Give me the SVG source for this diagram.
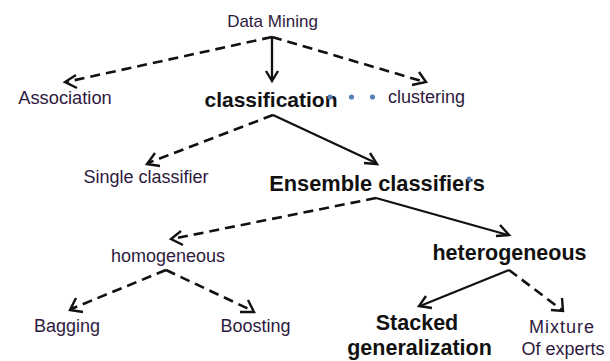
<svg xmlns="http://www.w3.org/2000/svg" width="610" height="361" viewBox="0 0 610 361">
  <style>
    .lbl { font-family: "Liberation Sans", Arial, sans-serif; font-size: 18px; fill: #2e1a40; text-anchor: middle; }
    .bold { font-family: "Liberation Sans", Arial, sans-serif; font-size: 21.5px; font-weight: bold; fill: #111; text-anchor: middle; }
    .dash { fill: none; stroke: #111; stroke-width: 2.6; stroke-dasharray: 10 6; }
    .solid { fill: none; stroke: #111; stroke-width: 2.3; }
    .head { fill: none; stroke: #111; stroke-width: 2.4; stroke-linejoin: miter; }
    .dot { fill: #5a7fb5; }
  </style>

  <rect width="610" height="361" fill="#fff"/>

  <!-- connectors -->
  <g id="connectors">
    <!-- Data Mining -->
    <line class="dash" x1="272" y1="37" x2="66" y2="82"/>
    <polyline class="head" points="76,75 65,82 77,88"/>
    <line class="solid" x1="272" y1="37" x2="272" y2="80"/>
    <polyline class="head" points="266,71 272,81 278,71"/>
    <line class="dash" x1="272" y1="37" x2="425" y2="82"/>
    <polyline class="head" points="412,85 426,82 419,72"/>

    <!-- classification -->
    <line class="dash" x1="273" y1="115" x2="148" y2="163"/>
    <polyline class="head" points="155,153 147,164 160,166"/>
    <line class="solid" x1="273" y1="115" x2="376" y2="163"/>
    <polyline class="head" points="364,163 377,164 370,153"/>

    <!-- Ensemble classifiers -->
    <line class="dash" x1="376" y1="198" x2="172" y2="239"/>
    <polyline class="head" points="181,231 171,239 183,245"/>
    <line class="solid" x1="376" y1="198" x2="508" y2="235"/>
    <polyline class="head" points="496,236 509,235 500,225"/>

    <!-- homogeneous -->
    <line class="dash" x1="166" y1="270" x2="71" y2="309"/>
    <polyline class="head" points="76,298 70,310 83,312"/>
    <line class="dash" x1="166" y1="270" x2="253" y2="311"/>
    <polyline class="head" points="240,312 254,312 248,300"/>

    <!-- heterogeneous -->
    <line class="solid" x1="509" y1="270" x2="420" y2="306"/>
    <polyline class="head" points="426,296 419,306 432,308"/>
    <line class="dash" x1="509" y1="270" x2="562" y2="310"/>
    <polyline class="head" points="551,310 563,311 562,298"/>
  </g>

  <!-- nodes -->
  <g id="data-mining"><text class="lbl" x="272.5" y="27" style="font-size:17px">Data Mining</text></g>
  <g id="association"><text class="lbl" x="65" y="103.5" style="font-size:18.3px">Association</text></g>
  <g id="classification"><text class="bold" x="271" y="107" style="font-size:21px">classification</text></g>
  <g id="dots">
    <circle class="dot" cx="330" cy="97" r="2.6"/>
    <circle class="dot" cx="351.5" cy="97" r="2.6"/>
    <circle class="dot" cx="372.5" cy="97" r="2.6"/>
  </g>
  <g id="clustering"><text class="lbl" x="426.5" y="103">clustering</text></g>
  <g id="single-classifier"><text class="lbl" x="146" y="183">Single classifier</text></g>
  <g id="ensemble-classifiers">
    <text class="bold" x="377" y="190.5" style="font-size:21.8px">Ensemble classifiers</text>
    <circle class="dot" cx="469" cy="179" r="2.4"/>
  </g>
  <g id="homogeneous"><text class="lbl" x="168" y="262">homogeneous</text></g>
  <g id="heterogeneous"><text class="bold" x="509.5" y="260">heterogeneous</text></g>
  <g id="bagging"><text class="lbl" x="67" y="332">Bagging</text></g>
  <g id="boosting"><text class="lbl" x="255.5" y="332">Boosting</text></g>
  <g id="stacked-generalization">
    <text class="bold" x="417" y="330">Stacked</text>
    <text class="bold" x="419.5" y="355">generalization</text>
  </g>
  <g id="mixture-of-experts">
    <text class="lbl" x="562" y="333" style="letter-spacing:1px">Mixture</text>
    <text class="lbl" x="563" y="355">Of experts</text>
  </g>
</svg>
